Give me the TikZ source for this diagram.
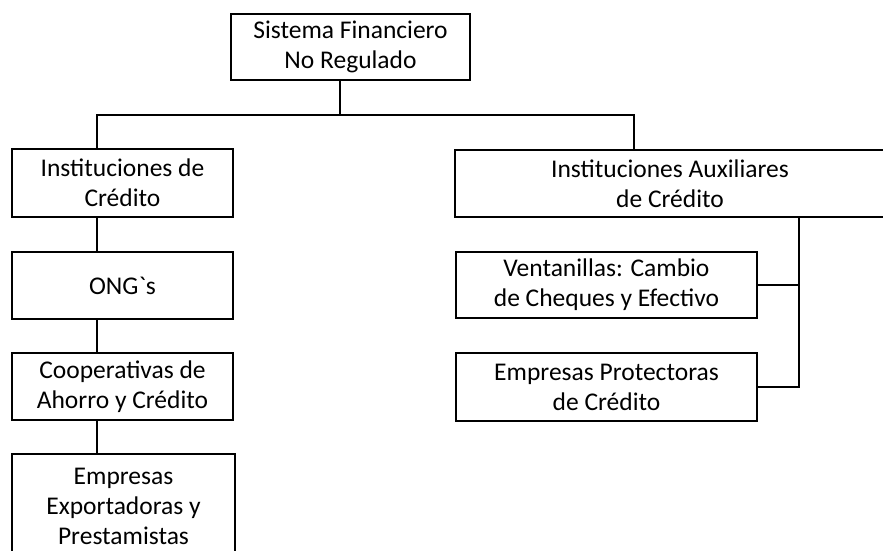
\documentclass[tikz,border=0pt]{standalone}
\usepackage{fontspec}
\setmainfont{Carlito}
\usepackage{tikz}
\usetikzlibrary{positioning,calc}
\tikzset{
  caja/.style={draw, line width=1.4pt, align=center, inner sep=0pt,
    font=\fontsize{25.5}{30}\selectfont},
  linea/.style={line width=1.4pt}
}

\begin{document}
\begin{tikzpicture}[x=1pt,y=-1pt]
          \path[use as bounding box,clip] (0,0) rectangle (883,551);
          \node[caja,minimum width=239pt,minimum height=66pt] (top) at (350.5,47) {Sistema Financiero\\No Regulado};
          \node[caja,minimum width=221pt,minimum height=68pt] (credito) at (122.5,183) {Instituciones de\\Crédito};
          \node[caja,minimum width=221pt,minimum height=67pt] (ong) at (122.5,285.5) {ONG\textasciigrave s};
          \node[caja,minimum width=221pt,minimum height=67pt] (coop) at (122.5,386.5) {Cooperativas de\\Ahorro y Crédito};
          \node[caja,minimum width=223pt,minimum height=104pt] (export) at (123.5,506) {Empresas\\Exportadoras y\\Prestamistas};
          \node[caja,minimum width=430pt,minimum height=67pt] (aux) at (670,183.5) {Instituciones Auxiliares\\de Crédito};
          \node[caja,minimum width=301pt,minimum height=66pt] (vent) at (606.5,285) {Ventanillas: Cambio\\de Cheques y Efectivo};
          \node[caja,minimum width=301pt,minimum height=68pt] (prot) at (606.5,387) {Empresas Protectoras\\de Crédito};
          \coordinate (bus) at (340,115);
          \coordinate (izq) at (97,115);
          \coordinate (der) at (634,115);
          \coordinate (lado) at (799,217);
          \draw[linea] (bus |- top.south) -- (bus);
          \draw[linea] (izq |- credito.north) -- (izq) -- (der) -- (der |- aux.north);
          \draw[linea] (izq |- credito.south) -- (izq |- ong.north);
          \draw[linea] (izq |- ong.south) -- (izq |- coop.north);
          \draw[linea] (izq |- coop.south) -- (izq |- export.north);
          \draw[linea] (lado |- aux.south) -- (lado |- prot.east) -- (prot.east);
          \draw[linea] (vent.east) -- (lado |- vent.east);
        \end{tikzpicture}
\end{document}
